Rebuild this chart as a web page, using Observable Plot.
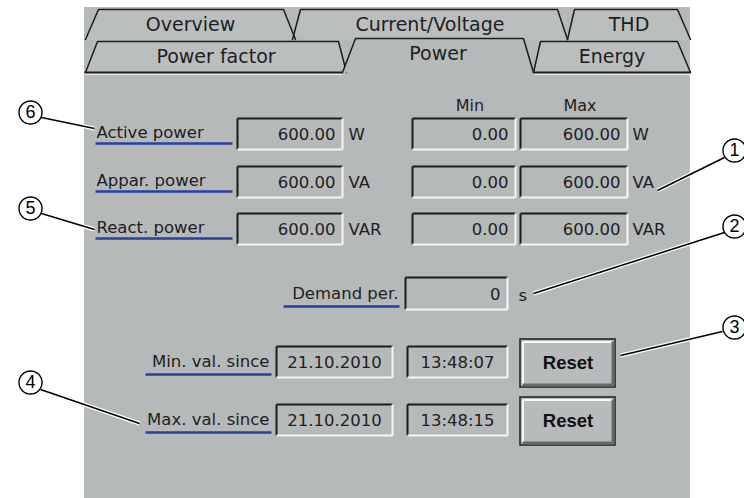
<!DOCTYPE html>
<html><head><meta charset="utf-8">
<script src="https://cdn.jsdelivr.net/npm/d3@7"></script>
<script src="https://cdn.jsdelivr.net/npm/@observablehq/plot@0.6"></script>
<style>html,body{margin:0;padding:0;background:#fff}</style>
</head><body><div id="chart"></div>
<script>
// ---------- data ----------
const tabsRow1 = ["Overview", "Current/Voltage", "THD"];
const tabsRow2 = ["Power factor", "Power", "Energy"];
const activeTab = "Power";
const quantities = ["Active power", "Appar. power", "React. power"];
const currentValues = [600, 600, 600];
const minValues = [0, 0, 0];
const maxValues = [600, 600, 600];
const units = ["W", "VA", "VAR"];
const columnHeaders = ["Min", "Max"];
const demandLabel = "Demand per.";
const demandValue = 0;
const demandUnit = "s";
const sinceLabels = ["Min. val. since", "Max. val. since"];
const sinceDates = ["21.10.2010", "21.10.2010"];
const sinceTimes = ["13:48:07", "13:48:15"];
const buttonLabel = "Reset";
const calloutNumbers = [1, 2, 3, 4, 5, 6];

// ---------- layout ----------
const W = 744, H = 498;
const C = {bg: "#b6b9ba", tab: "#bbbebf", dark: "#1c1c1c", light: "#f6f6f6",
  blue: "#2a3f9e", text: "#1e1e1e", btn: "#b8bbbc", btnShadow: "#666a6b"};
const FONT = "DejaVu Sans";
const panel = [{x1: 84, x2: 690, y1: 7, y2: H}];
const tabGeom1 = [[85, 98, 283, 295], [292, 300, 557, 567], [567, 574, 677, 690]];
const tabGeom2 = [[85, 97, 338, 346], [342, 355, 523, 533], [533, 540, 677, 690]];
const row1Y = [9, 39], row2Y = [41, 72], activeTopY = 38;

function makeTabs(names, geom, [yt, yb]) {
  return names.map((name, i) => {
    const [bl, tl, tr, br] = geom[i];
    const top = name === activeTab ? activeTopY : yt;
    return {name, active: name === activeTab, top, bottom: yb,
      pts: [{x: bl, y: yb}, {x: tl, y: top}, {x: tr, y: top}, {x: br, y: yb}],
      cx: (bl + br) / 2, cy: name === activeTab ? (top + yb) / 2 - 2 : (top + yb) / 2};
  });
}
const tabs1 = makeTabs(tabsRow1, tabGeom1, row1Y);
const tabs2 = makeTabs(tabsRow2, tabGeom2, row2Y);
const pts = (tabs) => tabs.flatMap(t => t.pts.map(p => ({...p, name: t.name})));
const tabs2Inactive = tabs2.filter(t => !t.active);
const tabs2Active = tabs2.filter(t => t.active);
const activeGeom = tabGeom2[tabsRow2.indexOf(activeTab)];
const tabBottomLines = [{x1: 84, x2: activeGeom[0]}, {x1: activeGeom[3], x2: 690}];

const rowTops = [118, 166, 213], boxH = 31;
const cols = {cur: [237, 342], min: [412, 515], max: [520, 627]};
const rows = quantities.map((q, i) => ({label: q, unit: units[i], top: rowTops[i]}));

const boxes = [];
rows.forEach((r, i) => {
  boxes.push({x1: cols.cur[0], x2: cols.cur[1], y1: r.top, y2: r.top + boxH, text: currentValues[i].toFixed(2), align: "end"});
  boxes.push({x1: cols.min[0], x2: cols.min[1], y1: r.top, y2: r.top + boxH, text: minValues[i].toFixed(2), align: "end"});
  boxes.push({x1: cols.max[0], x2: cols.max[1], y1: r.top, y2: r.top + boxH, text: maxValues[i].toFixed(2), align: "end"});
});
const demandBox = {x1: 405, x2: 507, y1: 277, y2: 309, text: String(demandValue), align: "end"};
boxes.push(demandBox);
const sinceTops = [346, 404];
const sinceRows = sinceLabels.map((l, i) => ({label: l, top: sinceTops[i]}));
sinceRows.forEach((r, i) => {
  boxes.push({x1: 276, x2: 392, y1: r.top, y2: r.top + boxH, text: sinceDates[i], align: "middle"});
  boxes.push({x1: 407, x2: 507, y1: r.top, y2: r.top + boxH, text: sinceTimes[i], align: "middle"});
});
const buttons = sinceRows.map(r => ({x1: 520, x2: 615, y1: r.top - 7, y2: r.top + 41, label: buttonLabel}));

// labels with blue underline
const labelsStart = rows.map(r => ({text: r.label, x: 96, y: r.top + 14, u1: 95, u2: 232, uy: r.top + 25}));
const labelsEnd = [
  {text: demandLabel, x: 398, y: 293, u1: 283, u2: 399, uy: 306},
  ...sinceRows.map(r => ({text: r.label, x: 269, y: r.top + 15, u1: 145, u2: 271, uy: r.top + 28}))
];
const allLabels = [...labelsStart, ...labelsEnd];
const unitTexts = [
  ...rows.map(r => ({text: r.unit, x: cols.cur[1] + 6, y: r.top + 16})),
  ...rows.map(r => ({text: r.unit, x: cols.max[1] + 5, y: r.top + 16})),
  {text: demandUnit, x: demandBox.x2 + 11, y: 295}
];
const headers = columnHeaders.map((h, i) => ({text: h, x: (i === 0 ? (cols.min[0] + cols.min[1]) / 2 : (cols.max[0] + cols.max[1]) / 2) + 6, y: 105}));

const calloutGeom = {
  1: {cx: 734, cy: 150, lx: 724, ly: 157, tx: 657, ty: 190},
  2: {cx: 734, cy: 226, lx: 724, ly: 232, tx: 533, ty: 293},
  3: {cx: 734, cy: 327, lx: 722, ly: 331, tx: 620, ty: 355},
  4: {cx: 30, cy: 382, lx: 40, ly: 389, tx: 139, ty: 423},
  5: {cx: 30, cy: 208, lx: 41, ly: 213, tx: 94, ty: 229},
  6: {cx: 30, cy: 112, lx: 41, ly: 117, tx: 94, ty: 128}
};
const callouts = calloutNumbers.map(n => ({n, ...calloutGeom[n]}));

const txt = {fontFamily: FONT, fill: C.text, lineAnchor: "middle"};

const plot = Plot.plot({
  width: W, height: H, margin: 0,
  x: {domain: [0, W], range: [0, W], axis: null},
  y: {domain: [0, H], range: [0, H], axis: null},
  style: {background: "white", overflow: "visible"},
  marks: [
    Plot.rect(panel, {x1: "x1", x2: "x2", y1: "y1", y2: "y2", fill: C.bg}),
    // tab row 1
    Plot.line(pts(tabs1), {x: "x", y: "y", z: "name", fill: C.tab, stroke: "none"}),
    Plot.line(pts(tabs1), {x: "x", y: "y", z: "name", stroke: C.dark, strokeWidth: 1.5, strokeLinejoin: "miter"}),
    Plot.text(tabs1, {x: "cx", y: "cy", text: "name", ...txt, fontSize: 19}),
    // tab row 2 inactive
    Plot.line(pts(tabs2Inactive), {x: "x", y: "y", z: "name", fill: C.tab, stroke: "none"}),
    Plot.line(pts(tabs2Inactive), {x: "x", y: "y", z: "name", stroke: C.dark, strokeWidth: 1.5, strokeLinejoin: "miter"}),
    Plot.link(tabBottomLines, {x1: "x1", x2: "x2", y1: () => row2Y[1], y2: () => row2Y[1], stroke: C.dark, strokeWidth: 2}),
    Plot.link(tabBottomLines, {x1: "x1", x2: "x2", y1: () => row2Y[1] + 1.8, y2: () => row2Y[1] + 1.8, stroke: C.light, strokeWidth: 1}),
    // active tab
    Plot.line(pts(tabs2Active), {x: "x", y: "y", z: "name", fill: C.bg, stroke: "none"}),
    Plot.line(pts(tabs2Active), {x: "x", y: "y", z: "name", stroke: C.dark, strokeWidth: 1.5, strokeLinejoin: "miter"}),
    Plot.text(tabs2, {x: "cx", y: "cy", text: "name", ...txt, fontSize: 19}),
    // headers
    Plot.text(headers, {x: "x", y: "y", text: "text", ...txt, fontSize: 16}),
    // sunken boxes
    Plot.rect(boxes, {x1: "x1", x2: "x2", y1: "y1", y2: "y2", fill: C.bg}),
    Plot.link(boxes, {x1: "x1", x2: "x2", y1: "y1", y2: "y1", stroke: C.dark, strokeWidth: 2}),
    Plot.link(boxes, {x1: "x1", x2: "x1", y1: "y1", y2: "y2", stroke: C.dark, strokeWidth: 2}),
    Plot.link(boxes, {x1: "x1", x2: "x2", y1: "y2", y2: "y2", stroke: C.light, strokeWidth: 2}),
    Plot.link(boxes, {x1: "x2", x2: "x2", y1: "y1", y2: "y2", stroke: C.light, strokeWidth: 2}),
    Plot.text(boxes.filter(b => b.align === "end"), {x: d => d.x2 - 7, y: d => (d.y1 + d.y2) / 2 + 1, text: "text", textAnchor: "end", ...txt, fontSize: 16.5}),
    Plot.text(boxes.filter(b => b.align === "middle"), {x: d => (d.x1 + d.x2) / 2, y: d => (d.y1 + d.y2) / 2 + 1, text: "text", ...txt, fontSize: 16.5}),
    // units
    Plot.text(unitTexts, {x: "x", y: "y", text: "text", textAnchor: "start", ...txt, fontSize: 16.5}),
    // labels + underlines
    Plot.link(allLabels, {x1: "u1", x2: "u2", y1: "uy", y2: "uy", stroke: C.blue, strokeWidth: 2.5}),
    Plot.text(labelsStart, {x: "x", y: "y", text: "text", textAnchor: "start", ...txt, fontSize: 16.5}),
    Plot.text(labelsEnd, {x: "x", y: "y", text: "text", textAnchor: "end", ...txt, fontSize: 16.5}),
    // buttons
    Plot.rect(buttons, {x1: "x1", x2: "x2", y1: "y1", y2: "y2", fill: C.btn, stroke: C.dark, strokeWidth: 1.5}),
    Plot.link(buttons, {x1: d => d.x1 + 2.5, x2: d => d.x2 - 3, y1: d => d.y1 + 2.5, y2: d => d.y1 + 2.5, stroke: C.light, strokeWidth: 2}),
    Plot.link(buttons, {x1: d => d.x1 + 2.5, x2: d => d.x1 + 2.5, y1: d => d.y1 + 2.5, y2: d => d.y2 - 3, stroke: C.light, strokeWidth: 2}),
    Plot.link(buttons, {x1: d => d.x1 + 2, x2: d => d.x2 - 2.5, y1: d => d.y2 - 2.5, y2: d => d.y2 - 2.5, stroke: C.btnShadow, strokeWidth: 3}),
    Plot.link(buttons, {x1: d => d.x2 - 2.5, x2: d => d.x2 - 2.5, y1: d => d.y1 + 2, y2: d => d.y2 - 2, stroke: C.btnShadow, strokeWidth: 3}),
    Plot.text(buttons, {x: d => (d.x1 + d.x2) / 2, y: d => (d.y1 + d.y2) / 2, text: "label", fontFamily: "Liberation Sans", fontWeight: "bold", fontSize: 18.5, fill: "#111", lineAnchor: "middle"}),
    // callouts
    Plot.link(callouts, {x1: "lx", y1: "ly", x2: "tx", y2: "ty", stroke: "white", strokeWidth: 4}),
    Plot.link(callouts, {x1: "lx", y1: "ly", x2: "tx", y2: "ty", stroke: "#000", strokeWidth: 1.6}),
    Plot.dot(callouts, {x: "cx", y: "cy", r: 11.5, fill: "white", stroke: "#000", strokeWidth: 1.4}),
    Plot.text(callouts, {x: "cx", y: "cy", text: d => String(d.n), fontFamily: "Liberation Sans", fontSize: 18, fill: "#000", lineAnchor: "middle"})
  ]
});
document.getElementById("chart").appendChild(plot);
</script>
</body></html>
